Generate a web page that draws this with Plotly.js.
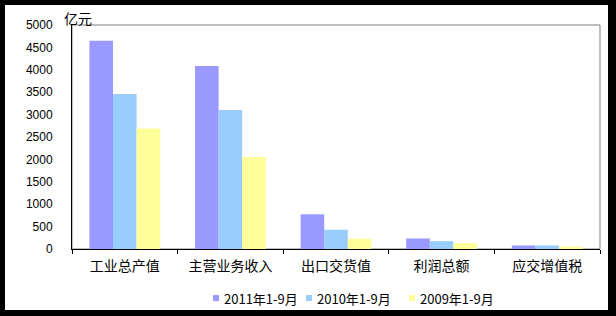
<!DOCTYPE html>
<html>
<head>
<meta charset="utf-8">
<script src="https://cdn.plot.ly/plotly-3.0.1.min.js"></script>
<style>
  html, body { margin: 0; padding: 0; background: #000; }
  #frame { position: relative; width: 616px; height: 316px; background: #000; overflow: hidden; }
  #chart { position: absolute; left: 5px; top: 5px; width: 603px; height: 305px; background: #fff; }
</style>
</head>
<body>
<div id="frame"><div id="chart"></div></div>
<script>
// Categories and series (亿元)
const categories = ['工业总产值', '主营业务收入', '出口交货值', '利润总额', '应交增值税'];
const seriesNames = ['2011年1-9月', '2010年1-9月', '2009年1-9月'];
const values2011 = [4650, 4085, 775, 235, 80];
const values2010 = [3460, 3100, 430, 175, 80];
const values2009 = [2690, 2055, 230, 130, 55];
const yTickValues = [0, 500, 1000, 1500, 2000, 2500, 3000, 3500, 4000, 4500, 5000];
const unitLabel = '亿元';

const seriesValues = [values2011, values2010, values2009];
const seriesColors = ['#9999FF', '#99CCFF', '#FFFF99'];

// Plot geometry inside the chart div
const W = 603, H = 305;
const M = { l: 67, r: 8, t: 20, b: 61 };
const plotW = W - M.l - M.r;
const plotH = H - M.t - M.b;
// convert div pixel positions to paper coordinates
const px = x => (x - M.l) / plotW;
const py = y => (H - M.b - y) / plotH;

const cjk = '"Noto Sans CJK SC", "Noto Sans", sans-serif';

const traces = seriesNames.map((name, i) => ({
  type: 'bar',
  name: name,
  x: categories,
  y: seriesValues[i],
  marker: { color: seriesColors[i], line: { width: 0 } },
  showlegend: false,
  hoverinfo: 'x+y+name'
}));

// Hand-laid legend: small square swatch followed by the series name
const legendSwatchX = [208, 301, 404];
const legendY = 293;
const shapes = [
  // plot area frame
  { type: 'rect', xref: 'paper', yref: 'paper', x0: 0, x1: 1, y0: 0, y1: 1,
    line: { color: '#808080', width: 1 }, fillcolor: 'rgba(0,0,0,0)', layer: 'below' }
];
const annotations = [
  { text: unitLabel, xref: 'paper', yref: 'paper', x: px(57), y: py(13),
    xanchor: 'left', yanchor: 'middle', showarrow: false,
    font: { family: cjk, size: 14, color: '#000' } }
];
seriesNames.forEach((name, i) => {
  const sx = legendSwatchX[i];
  shapes.push({ type: 'rect', xref: 'paper', yref: 'paper',
    x0: px(sx), x1: px(sx + 6), y0: py(legendY - 3), y1: py(legendY + 3),
    fillcolor: seriesColors[i], line: { width: 0 } });
  annotations.push({ text: name, xref: 'paper', yref: 'paper',
    x: px(sx + 9), y: py(legendY), xanchor: 'left', yanchor: 'middle',
    showarrow: false, font: { family: cjk, size: 13, color: '#000' } });
});

const layout = {
  width: W, height: H,
  margin: M,
  paper_bgcolor: '#ffffff',
  plot_bgcolor: '#ffffff',
  barmode: 'group',
  bargap: 0.33,
  bargroupgap: 0,
  showlegend: false,
  xaxis: {
    type: 'category',
    showline: true, linecolor: '#000', linewidth: 1,
    ticks: 'outside', tickson: 'boundaries', ticklen: 4, tickcolor: '#000',
    tickfont: { family: cjk, size: 14, color: '#000' },
    ticklabelstandoff: 4,
    showgrid: false, zeroline: false
  },
  yaxis: {
    range: [0, 5000],
    tickvals: yTickValues,
    ticktext: yTickValues.map(String),
    showline: true, linecolor: '#000', linewidth: 1,
    ticks: '', showgrid: false, zeroline: false,
    tickfont: { family: '"Liberation Sans", Arial, sans-serif', size: 12, color: '#000' },
    ticklabelstandoff: 16
  },
  shapes: shapes,
  annotations: annotations
};

Plotly.newPlot('chart', traces, layout, { staticPlot: true, displayModeBar: false });
</script>
</body>
</html>
